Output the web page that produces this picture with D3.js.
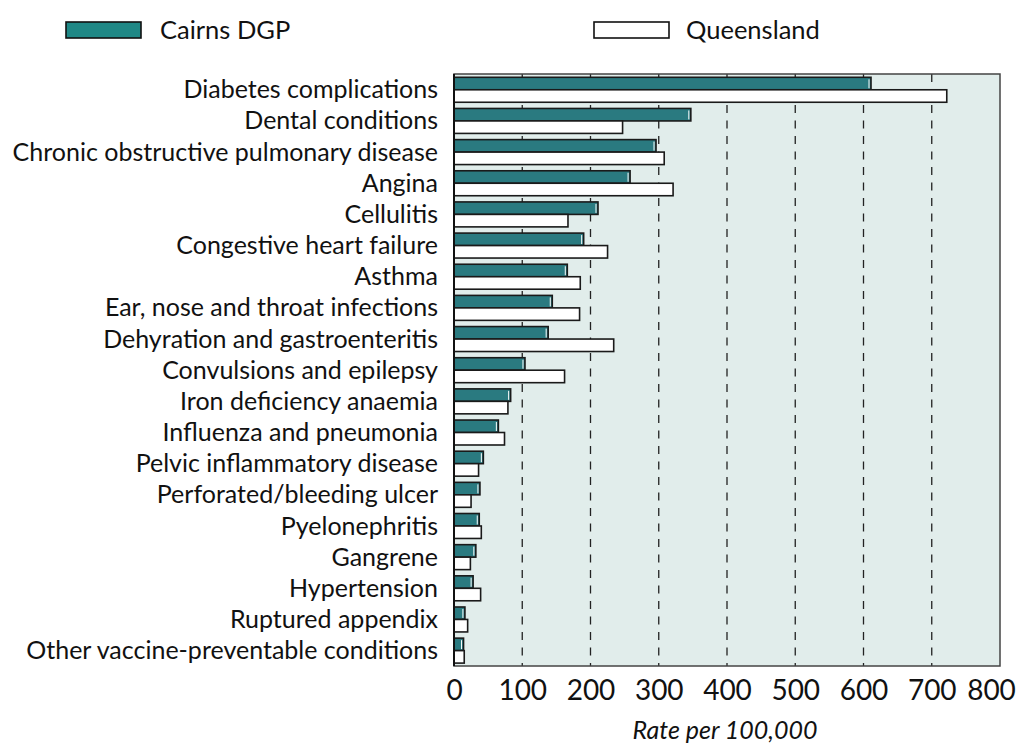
<!DOCTYPE html>
<html><head><meta charset="utf-8">
<script src="https://cdn.jsdelivr.net/npm/d3@7"></script>
<style>
body{margin:0;background:#fff;}
text{font-family:Lato,"Open Sans",sans-serif;fill:#111;}
</style></head>
<body><svg id="chart" width="1026" height="747"></svg>
<script>
const categories = ["Diabetes complications","Dental conditions","Chronic obstructive pulmonary disease","Angina","Cellulitis","Congestive heart failure","Asthma","Ear, nose and throat infections","Dehyration and gastroenteritis","Convulsions and epilepsy","Iron deficiency anaemia","Influenza and pneumonia","Pelvic inflammatory disease","Perforated/bleeding ulcer","Pyelonephritis","Gangrene","Hypertension","Ruptured appendix","Other vaccine-preventable conditions"];
const seriesNames = ["Cairns DGP","Queensland"];
const cairns = [611,347,296,258,211,190,166,144,138,104,83,65,43,38,37,32,28,16,14];
const queensland = [722,247,308,321,167,225,185,184,234,162,79,74,36,25,40,24,39,20,15];
const xTicks = [0,100,200,300,400,500,600,700,800];
const xTitle = "Rate per 100,000";

const svg = d3.select("#chart");
const L = 454, R = 1000, T = 74, B = 666;
const x = d3.scaleLinear().domain([0,800]).range([L,R]);
const y = d3.scaleBand().domain(categories).range([T,B]);
const ySub = d3.scaleBand().domain(seriesNames).range([3.3, y.bandwidth()-2.9]);
const colors = {"Cairns DGP":"#2a7a80","Queensland":"#ffffff"};

// plot background
svg.append("rect").attr("x",L).attr("y",T).attr("width",R-L).attr("height",B-T)
  .attr("fill","#e1edeb");

// gridlines
svg.append("g").selectAll("line").data(xTicks.filter(d=>d>0&&d<800)).join("line")
  .attr("x1",d=>x(d)).attr("x2",d=>x(d)).attr("y1",T).attr("y2",B)
  .attr("stroke","#222").attr("stroke-width",1.3).attr("stroke-dasharray","8,7.5");

// bars
const rows = categories.map((c,i)=>({cat:c, vals:[{s:"Cairns DGP",v:cairns[i]},{s:"Queensland",v:queensland[i]}]}));
const g = svg.append("g").selectAll("g").data(rows).join("g")
  .attr("transform",d=>`translate(0,${y(d.cat)})`);
g.selectAll("rect").data(d=>d.vals).join("rect")
  .attr("x",x(0)).attr("y",d=>ySub(d.s)).attr("width",d=>x(d.v)-x(0)).attr("height",ySub.bandwidth())
  .attr("fill",d=>colors[d.s]).attr("stroke","#1a1a1a").attr("stroke-width",1.6);
// highlight on teal bars
g.selectAll("line.hl").data(d=>d.vals.filter(v=>v.s==="Cairns DGP")).join("line")
  .attr("class","hl")
  .attr("x1",d=>x(d.v)-2).attr("x2",d=>x(d.v)-2)
  .attr("y1",d=>ySub(d.s)+2).attr("y2",d=>ySub(d.s)+ySub.bandwidth()-1.5)
  .attr("stroke","#ffffff").attr("stroke-width",1);

// frame
svg.append("rect").attr("x",L).attr("y",T).attr("width",R-L).attr("height",B-T)
  .attr("fill","none").attr("stroke","#444").attr("stroke-width",1.5);
svg.append("line").attr("x1",L).attr("x2",L).attr("y1",T).attr("y2",B)
  .attr("stroke","#111").attr("stroke-width",2);

// category labels
svg.append("g").selectAll("text").data(categories).join("text")
  .attr("x",438).attr("y",d=>y(d)+y.bandwidth()/2).attr("dy","0.35em")
  .attr("text-anchor","end").attr("font-size",25).text(d=>d);

// x axis
const xAxis = d3.axisBottom(x).tickValues(xTicks).tickSize(0).tickPadding(14);
const ax = svg.append("g").attr("transform",`translate(0,${B})`).call(xAxis);
ax.select(".domain").remove();
ax.selectAll("text").attr("font-size",28).attr("font-family","Lato, sans-serif").attr("fill","#111");
ax.selectAll(".tick").filter(d=>d===800).select("text").attr("dx",-9);

svg.append("text").attr("x",725).attr("y",739).attr("text-anchor","middle")
  .attr("font-size",25).attr("font-style","italic").text(xTitle);

// legend
const legendPos = [{s:"Cairns DGP",x:66,tx:160},{s:"Queensland",x:594,tx:686}];
const lg = svg.append("g").selectAll("g").data(legendPos).join("g");
lg.append("rect").attr("x",d=>d.x).attr("y",22).attr("width",75).attr("height",16)
  .attr("fill",d=>d.s==="Cairns DGP"?"#1f8886":"#fff").attr("stroke","#111").attr("stroke-width",1.6);
lg.append("text").attr("x",d=>d.tx).attr("y",30).attr("dy","0.35em").attr("font-size",25.5).text(d=>d.s);
</script></body></html>
